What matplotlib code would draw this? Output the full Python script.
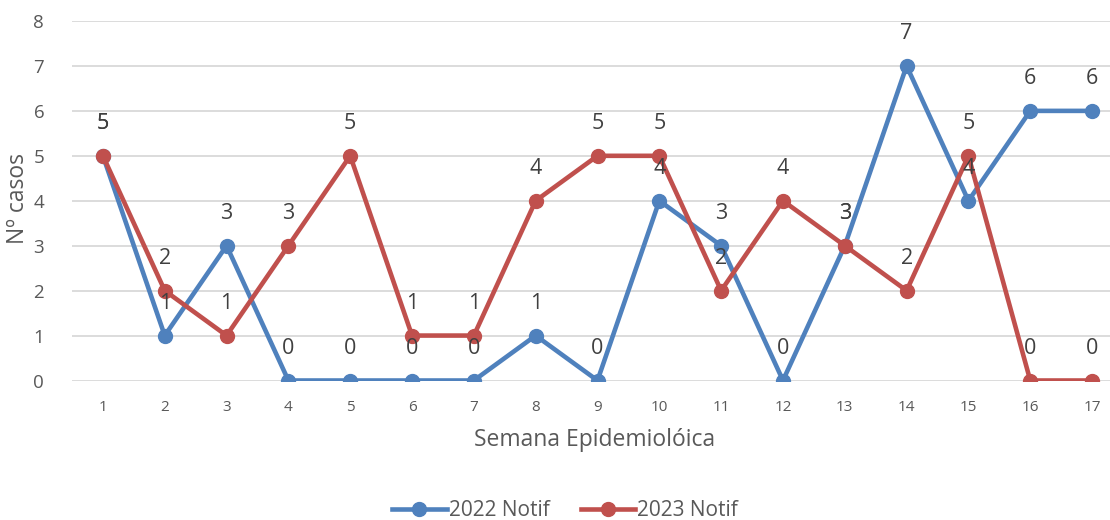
import matplotlib.pyplot as plt

plt.rcParams['font.family'] = ['Open Sans', 'DejaVu Sans']

# datos
semanas = list(range(1, 18))
notif_2022 = [5, 1, 3, 0, 0, 0, 0, 1, 0, 4, 3, 0, 3, 7, 4, 6, 6]
notif_2023 = [5, 2, 1, 3, 5, 1, 1, 4, 5, 5, 2, 4, 3, 2, 5, 0, 0]
etiquetas_y = [0, 1, 2, 3, 4, 5, 6, 7, 8]

azul = '#4F81BD'
rojo = '#C0504D'
gris = '#595959'

fig = plt.figure(figsize=(11.1, 5.2), dpi=100)
ax = fig.add_axes([72 / 1110, 1 - 380.5 / 520, 1051 / 1110, 359.5 / 520])

ax.plot(semanas, notif_2022, color=azul, lw=3.3, marker='o', ms=10,
        label='2022 Notif', zorder=3)
ax.plot(semanas, notif_2023, color=rojo, lw=3.3, marker='o', ms=10,
        label='2023 Notif', zorder=4)

# etiquetas de datos
for serie in (notif_2022, notif_2023):
    for s, v in zip(semanas, serie):
        ax.annotate(str(v), (s, v), xytext=(0, 23), textcoords='offset points',
                    ha='center', va='center', fontsize=15.5, color='#404040',
                    zorder=6)

ax.set_xlim(0.5, 17.5)
ax.set_ylim(0, 8)
ax.set_xticks(semanas)
ax.set_yticks(etiquetas_y)
ax.tick_params(axis='x', length=0, labelsize=11, colors=gris, pad=14)
ax.tick_params(axis='y', length=0, labelsize=13.5, colors=gris, pad=20)
ax.grid(axis='y', color='#D9D9D9', lw=1.3)
ax.set_axisbelow(True)
for sp in ax.spines.values():
    sp.set_visible(False)

fig.text(18 / 1110, 1 - 199 / 520, 'Nº casos', rotation=90, ha='center',
         va='center', fontsize=16.5, color=gris)
fig.text(595 / 1110, 1 - 440 / 520, 'Semana Epidemiolóica', ha='center',
         va='center', fontsize=16.5, color=gris)

fig.legend(loc='center', bbox_to_anchor=(565 / 1110, 1 - 511 / 520), ncol=2,
           frameon=False, fontsize=15, labelcolor=gris, handlelength=2.6,
           handletextpad=0.1, columnspacing=1.5)

fig.savefig('out.png', dpi=100)
